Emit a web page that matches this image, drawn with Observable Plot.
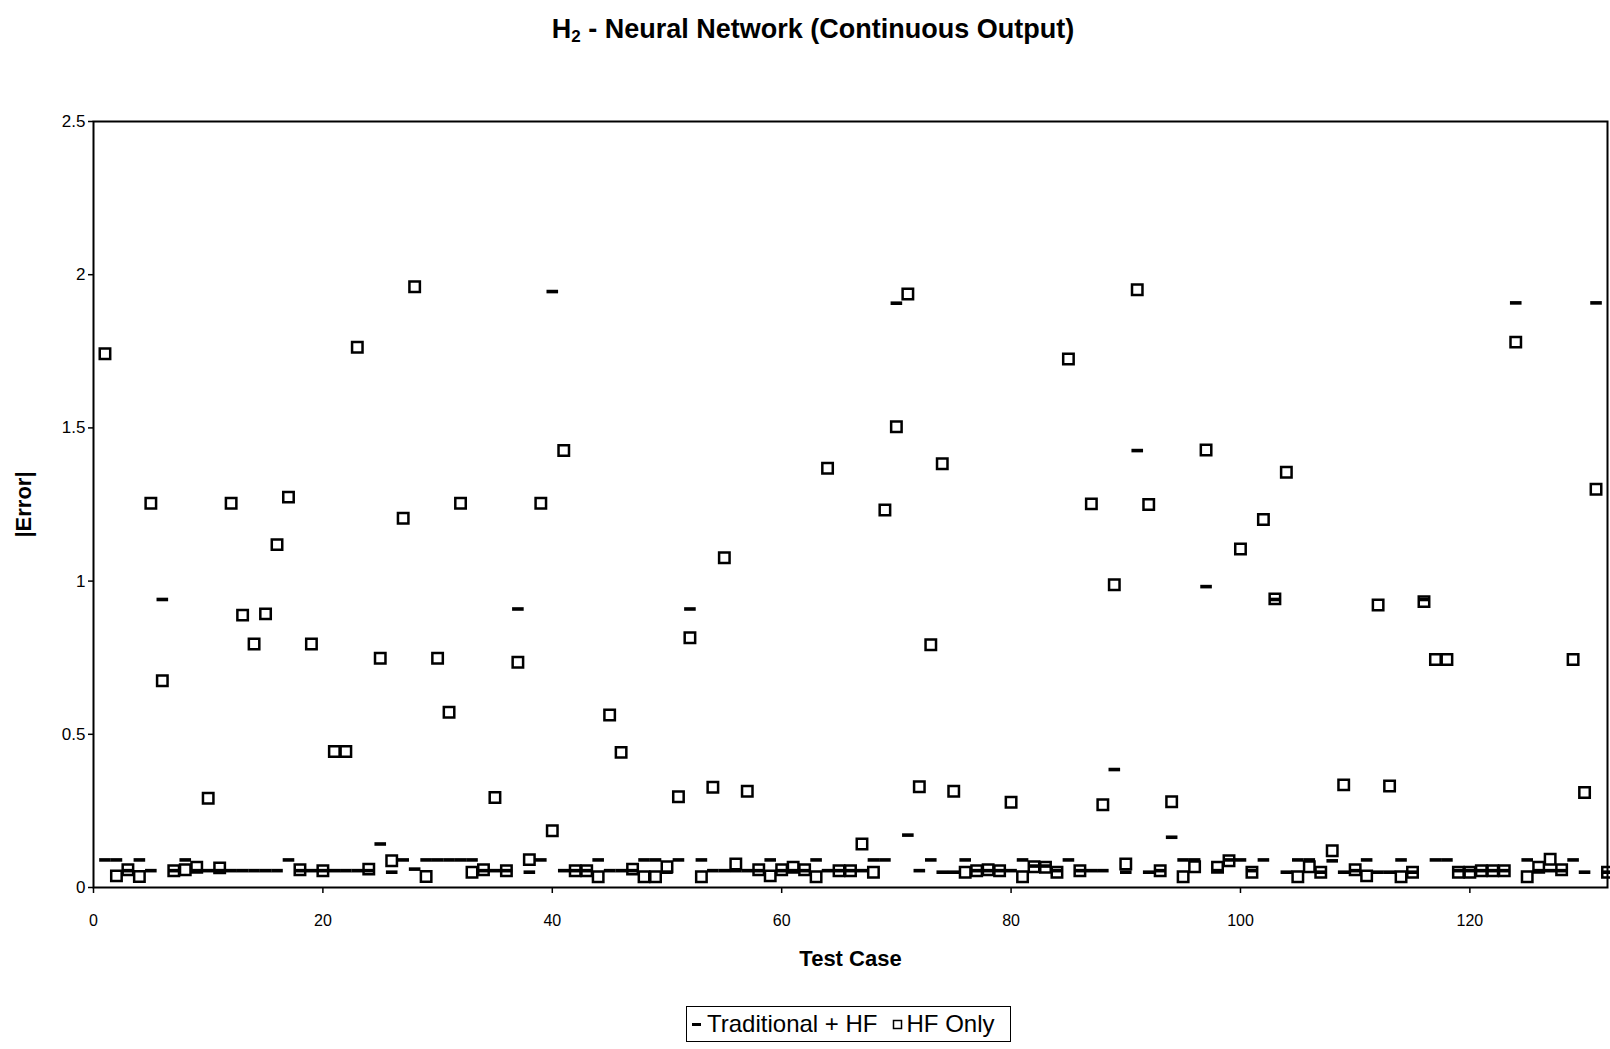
<!DOCTYPE html>
<html>
<head>
<meta charset="utf-8">
<script src="https://cdn.jsdelivr.net/npm/d3@7"></script>
<script src="https://cdn.jsdelivr.net/npm/@observablehq/plot@0.6"></script>
<style>
  html, body { margin: 0; padding: 0; background: #fff; }
  #page { position: relative; width: 1610px; height: 1049px; font-family: "Liberation Sans", Arial, sans-serif; color: #000; }
  #title { position: absolute; left: 813px; top: 12px; transform: translateX(-50%); white-space: nowrap;
           font-size: 27px; font-weight: bold; line-height: 34px; }
  #title sub { font-size: 17px; vertical-align: -4px; line-height: 0; }
  #chart { position: absolute; left: 0; top: 60px; }
  #legend { position: absolute; left: 686px; top: 1006px; width: 318px; height: 34px; border: 1.5px solid #000;
            display: flex; align-items: center; justify-content: flex-start; padding-left: 5px; box-sizing: content-box;
            font-size: 24px; white-space: nowrap; }
  #legend .item { display: inline-flex; align-items: center; margin-right: 14px; }
  #legend svg { margin-right: 4px; }
</style>
</head>
<body>
<div id="page">
  <div id="title">H<sub>2</sub> - Neural Network (Continuous Output)</div>
  <div id="chart"></div>
  <div id="legend"></div>
</div>
<script>
// |Error| of the network on each test case (test case = position in the list, starting at 1)
const traditionalHF = [
  0.09, 0.09, 0.055, 0.09, 0.055, 0.94, 0.055, 0.09, 0.055, 0.055,
  0.055, 0.055, 0.055, 0.055, 0.055, 0.055, 0.09, 0.055, 0.055, 0.055,
  0.055, 0.055, 0.055, 0.055, 0.142, 0.05, 0.09, 0.06, 0.09, 0.09,
  0.09, 0.09, 0.09, 0.055, 0.055, 0.055, 0.909, 0.05, 0.09, 1.945,
  0.055, 0.055, 0.055, 0.09, 0.055, 0.055, 0.055, 0.09, 0.09, 0.05,
  0.09, 0.909, 0.09, 0.055, 0.055, 0.055, 0.055, 0.055, 0.09, 0.055,
  0.055, 0.055, 0.09, 0.055, 0.055, 0.055, 0.055, 0.09, 0.09, 1.907,
  0.171, 0.055, 0.09, 0.05, 0.05, 0.09, 0.055, 0.055, 0.055, 0.055,
  0.09, 0.07, 0.07, 0.055, 0.09, 0.055, 0.055, 0.055, 0.385, 0.05,
  1.426, 0.05, 0.055, 0.164, 0.09, 0.09, 0.982, 0.055, 0.09, 0.09,
  0.055, 0.09, 0.94, 0.05, 0.09, 0.09, 0.05, 0.087, 0.05, 0.055,
  0.09, 0.05, 0.05, 0.09, 0.05, 0.94, 0.09, 0.09, 0.055, 0.055,
  0.055, 0.055, 0.055, 1.908, 0.09, 0.055, 0.055, 0.055, 0.09, 0.05,
  1.908, 0.05
];
const hfOnly = [
  1.742, 0.038, 0.058, 0.036, 1.254, 0.675, 0.055, 0.058, 0.066, 0.291,
  0.064, 1.254, 0.889, 0.795, 0.893, 1.119, 1.274, 0.058, 0.795, 0.055,
  0.444, 0.444, 1.763, 0.06, 0.748, 0.087, 1.205, 1.961, 0.036, 0.748,
  0.572, 1.254, 0.05, 0.058, 0.294, 0.055, 0.735, 0.091, 1.254, 0.185,
  1.426, 0.055, 0.055, 0.035, 0.563, 0.441, 0.06, 0.035, 0.035, 0.068,
  0.296, 0.815, 0.035, 0.327, 1.076, 0.077, 0.314, 0.058, 0.038, 0.058,
  0.066, 0.058, 0.035, 1.368, 0.055, 0.055, 0.142, 0.05, 1.232, 1.504,
  1.937, 0.329, 0.792, 1.383, 0.314, 0.05, 0.055, 0.058, 0.055, 0.278,
  0.035, 0.068, 0.066, 0.05, 1.725, 0.055, 1.252, 0.27, 0.988, 0.077,
  1.951, 1.25, 0.055, 0.28, 0.035, 0.068, 1.428, 0.066, 0.087, 1.105,
  0.05, 1.201, 0.942, 1.355, 0.035, 0.068, 0.05, 0.12, 0.335, 0.058,
  0.038, 0.922, 0.331, 0.035, 0.05, 0.933, 0.744, 0.744, 0.05, 0.05,
  0.055, 0.055, 0.055, 1.78, 0.035, 0.066, 0.092, 0.058, 0.744, 0.31,
  1.3, 0.05
];
const seriesNames = ["Traditional + HF", "HF Only"];
const xTicks = [0, 20, 40, 60, 80, 100, 120];
const yTicks = [0, 0.5, 1, 1.5, 2, 2.5];

const rows = hfOnly.map((v, i) => ({testCase: i + 1, traditional: traditionalHF[i], hf: v}));

// short horizontal bar used as the marker of the first series
const dashSymbol = {
  draw(context, size) {
    const r = Math.sqrt(size / Math.PI);
    const h = r * 0.31;
    context.moveTo(-r, -h);
    context.lineTo(r, -h);
    context.lineTo(r, h);
    context.lineTo(-r, h);
    context.closePath();
  }
};

const chart = Plot.plot({
  width: 1610,
  height: 940,
  marginLeft: 93,
  marginRight: 3,
  marginTop: 61,
  marginBottom: 113,
  style: {fontFamily: "'Liberation Sans', Arial, sans-serif", color: "#000", background: "#fff", overflow: "visible"},
  x: {domain: [0, 132]},
  y: {domain: [0, 2.5]},
  marks: [
    Plot.frame({stroke: "#000", strokeWidth: 2}),
    Plot.axisX({ticks: xTicks, tickSize: 6, tickPadding: 21, fontSize: 16, label: null, strokeWidth: 1.5}),
    Plot.axisY({ticks: yTicks, tickSize: 5, tickPadding: 3, fontSize: 17, label: null, tickFormat: d => String(d), strokeWidth: 1.5}),
    Plot.text(["Test Case"], {frameAnchor: "bottom", dy: 78, fontSize: 22, fontWeight: "bold"}),
    Plot.text(["|Error|"], {frameAnchor: "left", textAnchor: "middle", dx: -70, rotate: -90, fontSize: 22, fontWeight: "bold"}),
    Plot.dot(rows, {x: "testCase", y: "traditional", symbol: dashSymbol, r: 5.8, fill: "#000", stroke: null}),
    Plot.dot(rows, {x: "testCase", y: "hf", symbol: "square", r: 5.9, fill: "none", stroke: "#000", strokeWidth: 2.5})
  ]
});
document.getElementById("chart").appendChild(chart);

// legend: one entry per series, each with its own marker
const legend = d3.select("#legend");
const markers = [
  g => g.append("rect").attr("x", 0).attr("y", 9).attr("width", 9).attr("height", 3).attr("fill", "#000"),
  g => g.append("rect").attr("x", 1.5).attr("y", 6.5).attr("width", 8).attr("height", 8).attr("fill", "none").attr("stroke", "#000").attr("stroke-width", 1.5)
];
seriesNames.forEach((name, i) => {
  const item = legend.append("span").attr("class", "item");
  const s = item.append("svg").attr("width", 11).attr("height", 20);
  markers[i](s);
  item.append("span").text(name);
});
</script>
</body>
</html>
